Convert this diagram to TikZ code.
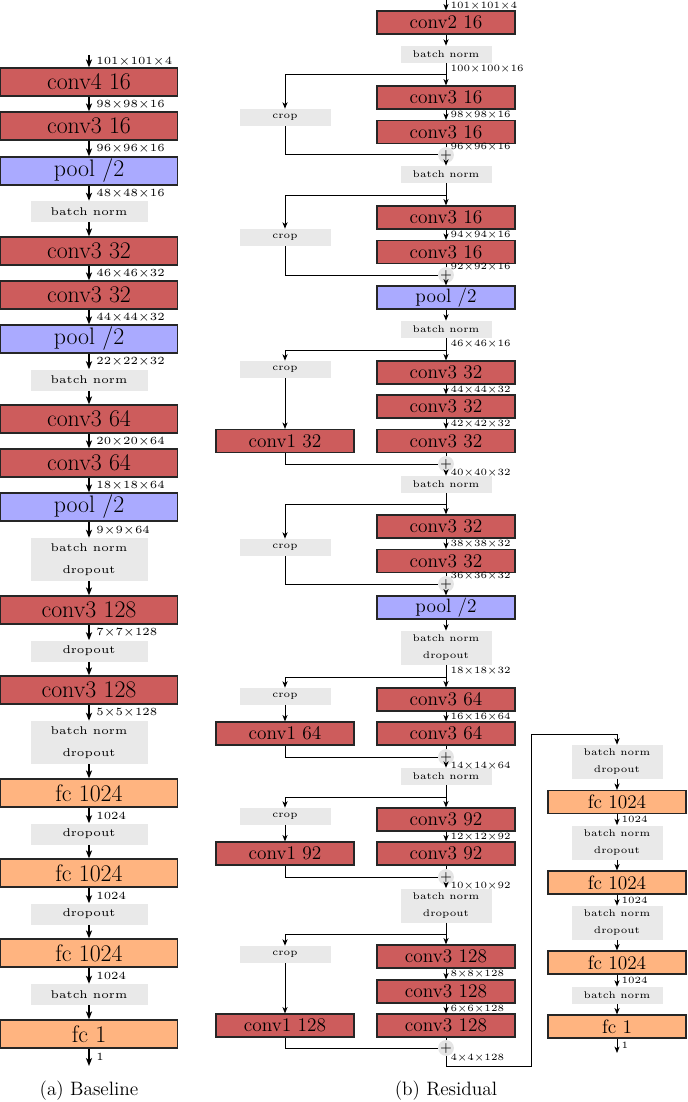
\documentclass[tikz,border=0pt]{standalone}
\usepackage{tikz}
\usetikzlibrary{positioning,arrows.meta}
\usepackage{xcolor}
\definecolor{convred}{RGB}{205,92,92}
\definecolor{poolblue}{RGB}{170,170,255}
\definecolor{fcorange}{RGB}{255,180,128}
\definecolor{opgray}{RGB}{233,233,233}
% small design size of Latin Modern for the tiny labels
\DeclareFontFamily{TU}{lmfive}{}
\DeclareFontShape{TU}{lmfive}{m}{n}{<-> "[lmroman5-regular]"}{}
\newcommand\fivefont{\fontfamily{lmfive}\selectfont}
\newcommand\dimx{\kern0.03em×\kern0.03em}

\begin{document}
\begin{tikzpicture}[
    x=0.75pt, y=-0.75pt,
    every node/.style={inner sep=0pt},
    conv/.style={fill=convred},
    pool/.style={fill=poolblue},
    fc/.style={fill=fcorange},
    lbox/.style={draw=black!85, line width=0.9pt, minimum width=177*0.75pt, minimum height=28*0.75pt, font=\fontsize{17.9}{20}\selectfont},
    rbox/.style={draw=black!85, line width=0.8pt, minimum width=138*0.75pt, minimum height=23*0.75pt, font=\fontsize{14.5}{16}\selectfont},
    lop/.style={fill=opgray, minimum width=117*0.75pt, minimum height=21*0.75pt, align=center, font=\fontsize{8.4}{16.5}\fivefont},
    rop/.style={fill=opgray, minimum width=91*0.75pt, minimum height=17*0.75pt, align=center, font=\fontsize{7.3}{12.75}\fivefont},
    ltwo/.style={minimum height=43*0.75pt},
    rtwo/.style={minimum height=34*0.75pt},
    ldim/.style={right=5pt, font=\fontsize{8.2}{9}\fivefont},
    rdim/.style={right=3pt, font=\fontsize{7.2}{8}\fivefont},
    plus/.style={circle, fill=gray!20, minimum size=11*0.75pt, font=\fontsize{9}{9}\fivefont},
    larr/.style={-{Stealth[length=6pt, width=4.6pt, inset=1.6pt]}, line width=1pt},
    rarr/.style={-{Stealth[length=4.8pt, width=3.8pt, inset=1.3pt]}, line width=0.75pt},
    rline/.style={line width=0.75pt}
]
    \useasboundingbox (0,0) rectangle (687,1102);

    % (a) Baseline
    \coordinate (bin) at (89,55);
    \node[lbox, conv] (b1) at (89,82) {conv4 16};
    \node[lbox, conv] (b2) at (89,126) {conv3 16};
    \node[lbox, pool] (b3) at (89,171) {pool /2};
    \node[lop] (b4) at (89,211.5) {batch norm};
    \node[lbox, conv] (b5) at (89,251) {conv3 32};
    \node[lbox, conv] (b6) at (89,295) {conv3 32};
    \node[lbox, pool] (b7) at (89,339) {pool /2};
    \node[lop] (b8) at (89,380) {batch norm};
    \node[lbox, conv] (b9) at (89,419) {conv3 64};
    \node[lbox, conv] (b10) at (89,463) {conv3 64};
    \node[lbox, pool] (b11) at (89,507) {pool /2};
    \node[lop, ltwo] (b12) at (89,559.5) {batch norm\\dropout};
    \node[lbox, conv] (b13) at (89,610) {conv3 128};
    \node[lop] (b14) at (89,651) {dropout};
    \node[lbox, conv] (b15) at (89,690) {conv3 128};
    \node[lop, ltwo] (b16) at (89,742.5) {batch norm\\dropout};
    \node[lbox, fc] (b17) at (89,793) {fc 1024};
    \node[lop] (b18) at (89,834) {dropout};
    \node[lbox, fc] (b19) at (89,873) {fc 1024};
    \node[lop] (b20) at (89,914) {dropout};
    \node[lbox, fc] (b21) at (89,953) {fc 1024};
    \node[lop] (b22) at (89,994.5) {batch norm};
    \node[lbox, fc] (b23) at (89,1034) {fc 1};
    \coordinate (bout) at (89,1066);

    \foreach \a/\b/\t in {bin/b1/101\dimx101\dimx4, b1/b2/98\dimx98\dimx16, b2/b3/96\dimx96\dimx16,
        b3/b4/48\dimx48\dimx16, b5/b6/46\dimx46\dimx32, b6/b7/44\dimx44\dimx32, b7/b8/22\dimx22\dimx32,
        b9/b10/20\dimx20\dimx64, b10/b11/18\dimx18\dimx64, b11/b12/9\dimx9\dimx64, b13/b14/7\dimx7\dimx128,
        b15/b16/5\dimx5\dimx128, b17/b18/1024, b19/b20/1024, b21/b22/1024, b23/bout/1}
        \draw[larr] (\a) -- node[ldim] {\t} (\b);
    \foreach \a/\b in {b4/b5, b8/b9, b12/b13, b14/b15, b16/b17, b18/b19, b20/b21, b22/b23}
        \draw[larr] (\a) -- (\b);

    \node[font=\fontsize{14.5}{16}\selectfont] (capa) at (89,1091) {(a) Baseline};

    % (b) Residual -- stem
    \coordinate (rin) at (446,0);
    \node[rbox, conv] (r1) at (446,22.5) {conv2 16};
    \node[rop] (r2) at (446,54.5) {batch norm};
    \draw[rarr] (rin) -- node[rdim] {101\dimx101\dimx4} (r1);
    \draw[rarr] (r1) -- (r2);

    % block 1
    \coordinate (s1) at (446,75);
    \node[rbox, conv] (r3) at (446,97.5) {conv3 16};
    \node[rbox, conv] (r4) at (446,132) {conv3 16};
    \node[rop] (c1) at (285,117.5) {crop};
    \node[plus] (p1) at (446,155) {+};
    \node[rop] (r5) at (446,174.5) {batch norm};
    \draw[rarr] (r2) -- node[rdim, pos=0.26] {100\dimx100\dimx16} (r3);
    \draw[rarr] (r3) -- node[rdim] {98\dimx98\dimx16} (r4);
    \draw[rarr] (s1) -| (c1);
    \draw[rline] (c1) |- (p1);
    \draw[rline] (r4) -- node[rdim, pos=1] {96\dimx96\dimx16} (p1);
    \draw[rarr] (p1) -- (r5);

    % block 2
    \coordinate (s2) at (446,195);
    \node[rbox, conv] (r6) at (446,217.5) {conv3 16};
    \node[rbox, conv] (r7) at (446,252) {conv3 16};
    \node[rop] (c2) at (285,237.5) {crop};
    \node[plus] (p2) at (446,275) {+};
    \node[rbox, pool] (r8) at (446,297.5) {pool /2};
    \node[rop] (r9) at (446,329.5) {batch norm};
    \draw[rarr] (r5) -- (r6);
    \draw[rarr] (r6) -- node[rdim] {94\dimx94\dimx16} (r7);
    \draw[rarr] (s2) -| (c2);
    \draw[rline] (c2) |- (p2);
    \draw[rline] (r7) -- node[rdim, pos=1] {92\dimx92\dimx16} (p2);
    \draw[rarr] (p2) -- (r8);
    \draw[rarr] (r8) -- (r9);

    % block 3
    \coordinate (s3) at (446,350);
    \node[rbox, conv] (r10) at (446,372.5) {conv3 32};
    \node[rbox, conv] (r11) at (446,406.5) {conv3 32};
    \node[rbox, conv] (r12) at (446,441) {conv3 32};
    \node[rop] (c3) at (285,369.5) {crop};
    \node[rbox, conv] (k1) at (285,441) {conv1 32};
    \node[plus] (p3) at (446,464) {+};
    \node[rop] (r13) at (446,484.5) {batch norm};
    \draw[rarr] (r9) -- node[rdim, pos=0.26] {46\dimx46\dimx16} (r10);
    \draw[rarr] (r10) -- node[rdim] {44\dimx44\dimx32} (r11);
    \draw[rarr] (r11) -- node[rdim] {42\dimx42\dimx32} (r12);
    \draw[rarr] (s3) -| (c3);
    \draw[rarr] (c3) -- (k1);
    \draw[rline] (k1) |- (p3);
    \draw[rline] (r12) -- (p3);
    \draw[rarr] (p3) -- node[rdim, pos=0.1] {40\dimx40\dimx32} (r13);

    % block 4
    \coordinate (s4) at (446,504);
    \node[rbox, conv] (r14) at (446,526.5) {conv3 32};
    \node[rbox, conv] (r15) at (446,561) {conv3 32};
    \node[rop] (c4) at (285,547.5) {crop};
    \node[plus] (p4) at (446,584) {+};
    \node[rbox, pool] (r16) at (446,607.5) {pool /2};
    \node[rop, rtwo] (r17) at (446,648) {batch norm\\dropout};
    \draw[rarr] (r13) -- (r14);
    \draw[rarr] (r14) -- node[rdim] {38\dimx38\dimx32} (r15);
    \draw[rarr] (s4) -| (c4);
    \draw[rline] (c4) |- (p4);
    \draw[rline] (r15) -- node[rdim, pos=1] {36\dimx36\dimx32} (p4);
    \draw[rarr] (p4) -- (r16);
    \draw[rarr] (r16) -- (r17);

    % block 5
    \coordinate (s5) at (446,677);
    \node[rbox, conv] (r18) at (446,699.5) {conv3 64};
    \node[rbox, conv] (r19) at (446,733.5) {conv3 64};
    \node[rop] (c5) at (285,696.5) {crop};
    \node[rbox, conv] (k2) at (285,733.5) {conv1 64};
    \node[plus] (p5) at (446,757) {+};
    \node[rop] (r20) at (446,776.5) {batch norm};
    \draw[rarr] (r17) -- node[rdim, pos=0.26] {18\dimx18\dimx32} (r18);
    \draw[rarr] (r18) -- node[rdim] {16\dimx16\dimx64} (r19);
    \draw[rarr] (s5) -| (c5);
    \draw[rarr] (c5) -- (k2);
    \draw[rline] (k2) |- (p5);
    \draw[rline] (r19) -- (p5);
    \draw[rarr] (p5) -- node[rdim, pos=0.1] {14\dimx14\dimx64} (r20);

    % block 6
    \coordinate (s6) at (446,797);
    \node[rbox, conv] (r21) at (446,819.5) {conv3 92};
    \node[rbox, conv] (r22) at (446,853.5) {conv3 92};
    \node[rop] (c6) at (285,816.5) {crop};
    \node[rbox, conv] (k3) at (285,853.5) {conv1 92};
    \node[plus] (p6) at (446,877) {+};
    \node[rop, rtwo] (r23) at (446,905.5) {batch norm\\dropout};
    \draw[rarr] (r20) -- (r21);
    \draw[rarr] (r21) -- node[rdim] {12\dimx12\dimx92} (r22);
    \draw[rarr] (s6) -| (c6);
    \draw[rarr] (c6) -- (k3);
    \draw[rline] (k3) |- (p6);
    \draw[rline] (r22) -- (p6);
    \draw[rarr] (p6) -- node[rdim, pos=0.1] {10\dimx10\dimx92} (r23);

    % block 7
    \coordinate (s7) at (446,934);
    \node[rbox, conv] (r24) at (446,956.5) {conv3 128};
    \node[rbox, conv] (r25) at (446,991.5) {conv3 128};
    \node[rbox, conv] (r26) at (446,1025.5) {conv3 128};
    \node[rop] (c7) at (285,954.5) {crop};
    \node[rbox, conv] (k4) at (285,1025.5) {conv1 128};
    \node[plus] (p7) at (446,1048) {+};
    \draw[rarr] (r23) -- (r24);
    \draw[rarr] (r24) -- node[rdim] {8\dimx8\dimx128} (r25);
    \draw[rarr] (r25) -- node[rdim] {6\dimx6\dimx128} (r26);
    \draw[rarr] (s7) -| (c7);
    \draw[rarr] (c7) -- (k4);
    \draw[rline] (k4) |- (p7);
    \draw[rline] (r26) -- (p7);

    % head, fed by the loop line
    \coordinate (loopA) at (531,1066);
    \coordinate (loopB) at (531,734);
    \node[rop, rtwo] (f1) at (617,762) {batch norm\\dropout};
    \node[rbox, fc] (f2) at (617,802) {fc 1024};
    \node[rop, rtwo] (f3) at (617,842.5) {batch norm\\dropout};
    \node[rbox, fc] (f4) at (617,882.5) {fc 1024};
    \node[rop, rtwo] (f5) at (617,923) {batch norm\\dropout};
    \node[rbox, fc] (f6) at (617,962.5) {fc 1024};
    \node[rop] (f7) at (617,995.5) {batch norm};
    \node[rbox, fc] (f8) at (617,1026.5) {fc 1};
    \coordinate (fout) at (617,1053);
    \draw[rarr] (p7) -- node[rdim, pos=0.15] {4\dimx4\dimx128} (p7 |- loopA) -- (loopA) -- (loopB) -| (f1);
    \foreach \a/\b/\t in {f2/f3/1024, f4/f5/1024, f6/f7/1024, f8/fout/1}
        \draw[rarr] (\a) -- node[rdim] {\t} (\b);
    \foreach \a/\b in {f1/f2, f3/f4, f5/f6, f7/f8}
        \draw[rarr] (\a) -- (\b);

    \node[font=\fontsize{14.5}{16}\selectfont] (capb) at (446,1091) {(b) Residual};
\end{tikzpicture}
\end{document}
